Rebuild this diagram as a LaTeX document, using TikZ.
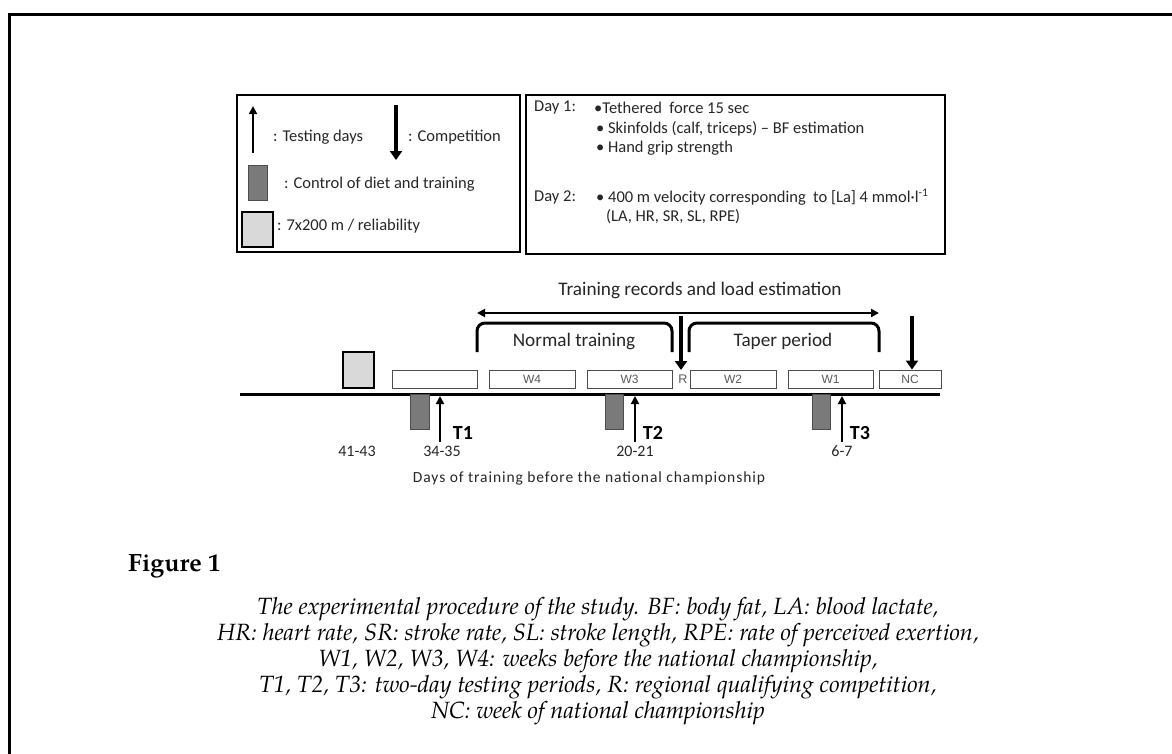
\documentclass[tikz,border=0pt]{standalone}
\usepackage{fontspec}
\setmainfont{Carlito}
\newfontfamily\arialf{Liberation Sans}
\newfontfamily\spacedf[LetterSpace=6]{Carlito}
\newfontfamily\palf{texgyrepagella}[Extension=.otf, UprightFont=*-regular, ItalicFont=*-italic, BoldFont=*-bold, BoldItalicFont=*-bolditalic]
\usetikzlibrary{arrows.meta}
\begin{document}
\begin{tikzpicture}[x=1pt,y=-1pt,
  lbl/.style={font=\fontsize{16.5}{18}\selectfont, text=black!85, inner sep=0, anchor=west},
  wk/.style={draw=black!70, line width=0.9pt, fill=white, minimum height=18, inner sep=0, font=\arialf\fontsize{12}{12}\selectfont, text=black!65},
  ctrl/.style={draw=black!70, fill=black!52, line width=1pt},
  rel/.style={draw=black, fill=black!15, line width=2.2pt},
  upar/.style={line width=1.8pt, -{Triangle[length=8,width=8]}},
  dnar/.style={line width=4.5pt, -{Triangle[length=9,width=12]}},
  brk/.style={line width=3pt, rounded corners=8},
  big/.style={font=\fontsize{19.2}{21}\selectfont, text=black!85},
  tl/.style={font=\bfseries\fontsize{20}{22}\selectfont},
  dl/.style={font=\fontsize{16}{18}\selectfont, text=black!85},
  capt/.style={font=\palf\itshape\fontsize{23.5}{26}\selectfont},
]
\useasboundingbox (0,0) rectangle (1172,753);
\draw[line width=3pt] (9.5,760) -- (9.5,14) -- (1180,14);

% legend box
\draw[line width=2pt] (237,94.5) rectangle (520,252);
\coordinate (la1) at (253,153); \coordinate (la2) at (253,106);
\draw[upar] (la1) -- (la2);
\node[lbl] (ltest) at (273,137) {: Testing days};
\coordinate (lc1) at (396,105); \coordinate (lc2) at (396,160);
\draw[dnar] (lc1) -- (lc2);
\node[lbl] (lcomp) at (408,137) {: Competition};
\draw[ctrl] (248,165) rectangle (267,200);
\node[lbl] (lctrl) at (284,184) {: Control of diet and training};
\draw[rel] (242,212) rectangle (273,247);
\node[lbl] (lrel) at (277,226) {: 7x200 m / reliability};

% day box
\draw[line width=2pt] (526,94.5) rectangle (945,254);
\node[lbl] (d1) at (534,108) {Day 1:};
\node[lbl] (d1a) at (594,108) {•Tethered\ \ force 15 sec};
\node[lbl] (d1b) at (596,129) {• Skinfolds (calf, triceps) – BF estimation};
\node[lbl] (d1c) at (596,148) {• Hand grip strength};
\node[lbl] (d2) at (534,197) {Day 2:};
\node[lbl] (d2a) at (596,197) {• 400 m velocity corresponding\ \ to [La] 4 mmol·l\textsuperscript{-1}};
\node[lbl] (d2b) at (606,217) {(LA, HR, SR, SL, RPE)};

% timeline top
\node[big] (trec) at (700,290) {Training records and load estimation};
\coordinate (ta) at (477,313); \coordinate (tb) at (879,313);
\draw[line width=2.2pt, {Triangle[length=8,width=8]}-{Triangle[length=8,width=8]}] (ta) -- (tb);
\draw[brk] (477,352) -- (477,323) -- (672,323) -- (672,352);
\node[big] (nt) at (574,341) {Normal training};
\draw[brk] (689,352) -- (689,323) -- (879,323) -- (879,352);
\node[big] (tp) at (783,341) {Taper period};

% main line
\draw[line width=3pt] (240,394) -- (940,394);

% week boxes
\node[wk, minimum width=85] (w5) at (434.5,379) {};
\node[wk, minimum width=86] (w4) at (532,379) {W4};
\node[wk, minimum width=85] (w3) at (629.5,379) {W3};
\node[font=\arialf\fontsize{12.5}{12}\selectfont, text=black!65, inner sep=0] (r) at (683,379) {R};
\node[wk, minimum width=86] (w2) at (733,379) {W2};
\node[wk, minimum width=85] (w1) at (830.5,379) {W1};
\node[wk, minimum width=62] (nc) at (910,379) {NC};

% competition arrows
\coordinate (ra) at (681,316);
\draw[dnar] (ra) -- (681,370);
\coordinate (na) at (912,316);
\draw[dnar] (na) -- (nc.north -| na);

% reliability square
\draw[rel] (343,352) rectangle (374,388);

% control rectangles
\draw[ctrl] (410,394.5) rectangle (429,429);
\draw[ctrl] (605,394.5) rectangle (623,429);
\draw[ctrl] (812,394.5) rectangle (830,429);

% test arrows
\coordinate (t1a) at (440,442); \coordinate (t1b) at (440,396);
\draw[upar] (t1a) -- (t1b);
\coordinate (t2a) at (635,442); \coordinate (t2b) at (635,396);
\draw[upar] (t2a) -- (t2b);
\coordinate (t3a) at (842,442); \coordinate (t3b) at (842,396);
\draw[upar] (t3a) -- (t3b);
\node[tl] (T1) at (463,433) {T1};
\node[tl] (T2) at (653,433) {T2};
\node[tl] (T3) at (860,433) {T3};
\node[dl] (n41) at (357,451) {41-43};
\node[dl] (n34) at (442,451) {34-35};
\node[dl] (n20) at (635,451) {20-21};
\node[dl] (n6) at (842,451) {6-7};
\node[font=\spacedf\fontsize{15.5}{17}\selectfont, text=black!85] (days) at (589,478) {Days of training before the national championship};

% caption
\node[font=\palf\bfseries\fontsize{25}{27}\selectfont, anchor=west, inner sep=0] (fig) at (128,566) {Figure 1};
\node[capt] (c1) at (598,609) {The experimental procedure of the study. BF: body fat, LA: blood lactate,};
\node[capt] (c2) at (598,635) {HR: heart rate, SR: stroke rate, SL: stroke length, RPE: rate of perceived exertion,};
\node[capt] (c3) at (598,661) {W1, W2, W3, W4: weeks before the national championship,};
\node[capt] (c4) at (598,687) {T1, T2, T3: two-day testing periods, R: regional qualifying competition,};
\node[capt] (c5) at (598,713) {NC: week of national championship};
\end{tikzpicture}
\end{document}
